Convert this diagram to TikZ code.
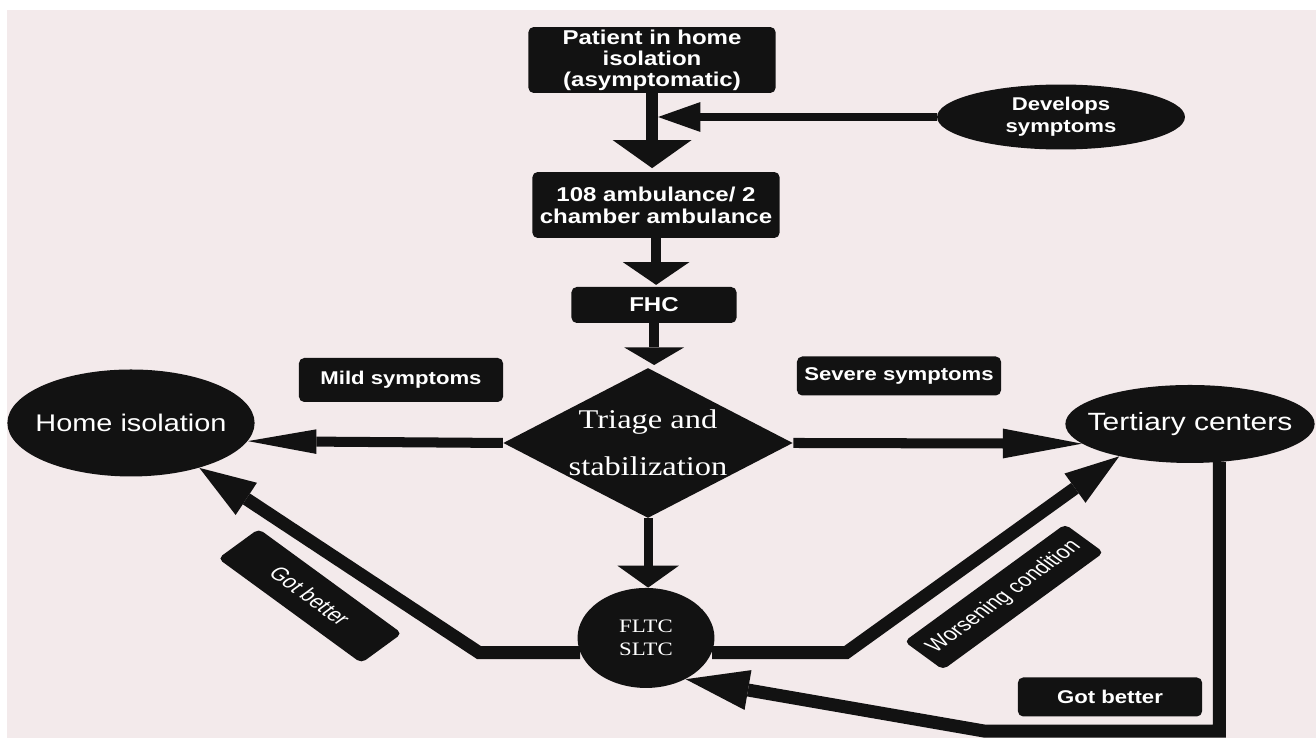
\documentclass[tikz,border=0pt]{standalone}
\usepackage{fontspec}
\setmainfont{Liberation Serif}[FakeStretch=0.876]
\setsansfont{Liberation Sans}[FakeStretch=0.876]
\usetikzlibrary{shapes.geometric,arrows.meta}
\definecolor{ink}{HTML}{121212}
\definecolor{paper}{HTML}{F3EAEB}

\begin{document}
\begin{tikzpicture}[x=0.0146cm, y=-0.02cm, xscale=1.37,
  every node/.style={transform shape, text=white, fill=ink, inner sep=0pt},
  box/.style={rectangle, rounded corners=3pt, align=center, font=\sffamily\bfseries\fontsize{11.4}{12}\selectfont},
  tagbox/.style={rectangle, rounded corners=3pt, align=center, font=\sffamily\bfseries\fontsize{10.5}{12}\selectfont},
  oval/.style={ellipse, inner xsep=-0.25cm, align=center, font=\sffamily\fontsize{13.7}{15}\selectfont},
  link/.style={draw=ink, line width=#1}]
\useasboundingbox (0,0) rectangle (1316,738);
\fill[white] (0,0) rectangle (1316,738);
\fill[paper] (7,10) rectangle (1316,738);

\node[box, minimum width=3.61cm, minimum height=1.32cm] (patient) at (652,60) {Patient in home\\isolation\\(asymptomatic)};
\node[box, minimum width=3.61cm, minimum height=1.32cm, font=\sffamily\bfseries\fontsize{11.4}{12.5}\selectfont] (amb) at (656,205) {108 ambulance/ 2\\chamber ambulance};
\node[box, minimum width=2.41cm, minimum height=0.72cm] (fhc) at (654,305) {FHC};
\node[oval, minimum width=3.62cm, minimum height=1.3cm, font=\sffamily\bfseries\fontsize{10.5}{12.5}\selectfont] (dev) at (1061,117) {Develops\\symptoms};
\node[diamond, aspect=1.41, minimum width=4.23cm, minimum height=3cm, align=center, font=\fontsize{15.4}{26.5}\selectfont] (triage) at (648,443) {Triage and\\stabilization};
\node[oval, minimum width=3.61cm, minimum height=2.14cm] (homeiso) at (131,423) {Home isolation};
\node[oval, minimum width=3.64cm, minimum height=1.56cm, font=\sffamily\fontsize{14.2}{15}\selectfont] (tertiary) at (1190,424) {Tertiary centers};
\node[circle, minimum size=2cm, align=center, font=\fontsize{10.8}{12.8}\selectfont] (fltc) at (646,638) {FLTC\\SLTC};

\node[tagbox, minimum width=2.98cm, minimum height=0.88cm] (mild) at (401,380) {Mild symptoms};
\node[tagbox, minimum width=2.98cm, minimum height=0.78cm] (severe) at (899,376) {Severe symptoms};
\node[tagbox, minimum width=2.69cm, minimum height=0.78cm] (betterR) at (1110,697) {Got better};
\node[tagbox, rotate=45, minimum width=3.32cm, minimum height=0.8cm, font=\sffamily\fontsize{10.8}{12}\selectfont] (worse) at (1004,597) {Worsening condition};
\node[tagbox, rotate=-45, minimum width=2.96cm, minimum height=0.84cm, font=\sffamily\fontsize{10.8}{12}\selectfont] (betterL) at (310,596) {Got better};

\coordinate (join) at (658,117);
\draw[link=6.8pt, -{Triangle[width=45pt,length=16pt,line width=0pt]}, shorten >=2pt] (patient.south) -- (patient.south |- amb.north);
\draw[link=4pt, -{Triangle[width=17pt,length=24pt,line width=0pt]}] (dev.west) -- (join);
\draw[link=5.7pt, -{Triangle[width=38pt,length=13pt,line width=0pt]}, shorten >=1pt] (amb.south) -- (amb.south |- fhc.north);
\draw[link=5.7pt, -{Triangle[width=34pt,length=10pt,line width=0pt]}, shorten >=1.5pt] (fhc.south) -- (fhc.south |- triage.north);
\draw[link=5.1pt, -{Triangle[width=35pt,length=12.5pt,line width=0pt]}] (triage.south) -- (triage.south |- fltc.north);
\draw[link=5.7pt, -{Triangle[width=14pt,length=39pt,line width=0pt]}] (triage.west) -- (homeiso.348);
\draw[link=5.7pt, -{Triangle[width=17pt,length=45pt,line width=0pt]}] (triage.east) -- (tertiary.194);
\draw[link=7.4pt, -{Triangle[width=22pt,length=32pt,line width=0pt]}] (fltc.197) -- ++(-101,0) -- (homeiso.318);
\draw[link=7.4pt, -{Triangle[width=20.5pt,length=31pt,line width=0pt]}] (fltc.343) -- ++(134,0) -- (tertiary.212);
\draw[link=7.4pt, -{Triangle[width=23pt,length=36pt,line width=0pt]}] (tertiary.299) -- ++(0,269) -- ++(-234,0) -- (fltc.305);
\end{tikzpicture}
\end{document}
